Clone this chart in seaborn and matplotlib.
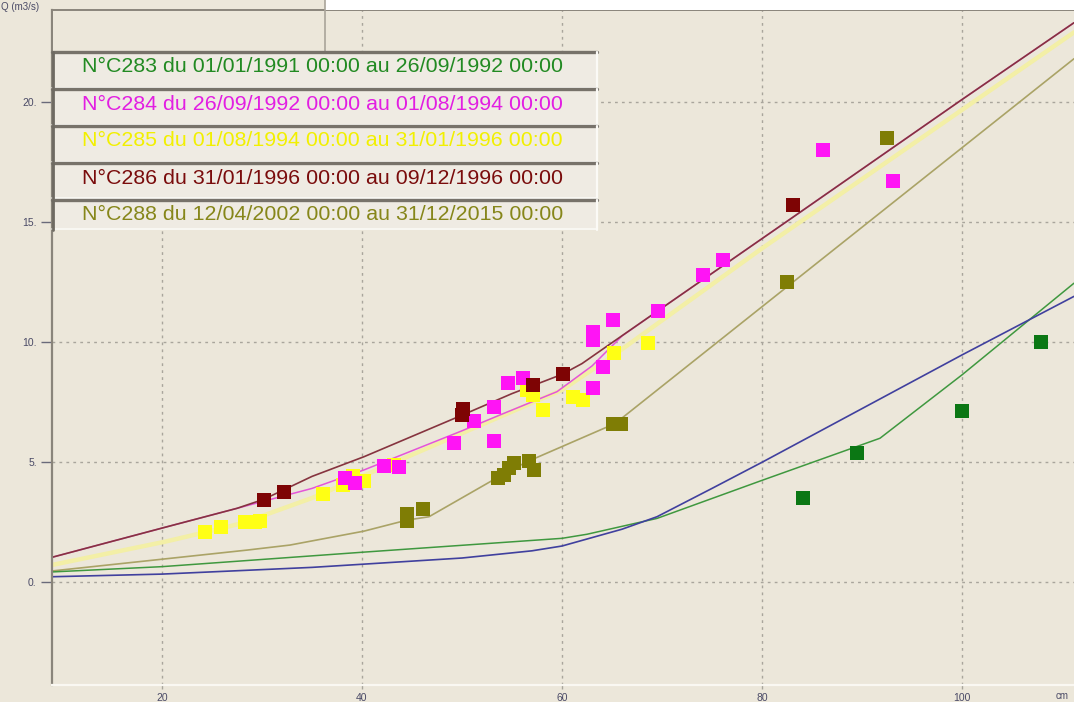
import matplotlib
matplotlib.use("Agg")
import matplotlib.pyplot as plt
from matplotlib import font_manager
from matplotlib.patches import Rectangle
from matplotlib.lines import Line2D
import pandas as pd
import seaborn as sns

# ---------------- Jaugeages : hauteur h (cm), débit Q (m3/s) ----------------
c283_h = [84.1, 89.5, 100.0, 107.9]
c283_q = [3.51, 5.36, 7.11, 10.0]

c284_h = [38.3, 39.3, 42.2, 43.7, 49.2, 51.2, 53.2, 53.2, 54.6, 56.1,
          63.1, 63.1, 63.1, 64.1, 65.1, 69.6, 74.1, 76.1, 86.1, 93.1]
c284_q = [4.35, 4.14, 4.83, 4.78, 5.80, 6.72, 7.30, 5.87, 8.28, 8.50,
          10.08, 10.40, 8.07, 8.95, 10.9, 11.3, 12.8, 13.4, 18.0, 16.7]

c285_h = [24.3, 25.9, 28.3, 29.3, 29.8, 36.1, 38.1, 39.1, 40.2, 43.2,
          56.5, 57.1, 58.1, 61.1, 62.1, 65.2, 68.6]
c285_q = [2.10, 2.28, 2.51, 2.51, 2.55, 3.67, 4.04, 4.42, 4.22, 4.87,
          8.00, 7.80, 7.17, 7.72, 7.58, 9.53, 9.97]

c286_h = [30.2, 32.2, 50.0, 50.1, 57.1, 60.1, 83.1]
c286_q = [3.42, 3.76, 6.95, 7.20, 8.20, 8.67, 15.7]

c288_h = [44.5, 44.5, 46.1, 53.6, 54.2, 54.7, 55.2, 56.7, 57.2, 65.1, 65.9, 82.5, 92.5]
c288_q = [2.55, 2.85, 3.05, 4.35, 4.45, 4.75, 4.95, 5.05, 4.65, 6.58, 6.58, 12.5, 18.5]

# ---------------- Courbes de tarage ----------------
tarage_283_h = [9.0, 20.0, 40.0, 60.0, 62.5, 69.5, 80.1, 91.8, 100.0, 111.2]
tarage_283_q = [0.42, 0.64, 1.24, 1.82, 1.99, 2.65, 4.25, 5.99, 8.63, 12.45]

tarage_284_h = [9.0, 20.3, 27.5, 35.0, 40.2, 50.0, 53.8, 59.5, 63.0, 66.0, 69.6, 83.1, 100.0, 111.2]
tarage_284_q = [1.03, 2.28, 3.07, 3.90, 4.67, 6.30, 6.96, 7.93, 9.00, 10.25, 11.3, 15.2, 20.1, 23.3]

tarage_285_h = [9.0, 20.3, 24.0, 28.0, 35.0, 40.0, 50.0, 55.0, 60.0, 65.0, 80.0, 100.0, 111.2]
tarage_285_q = [0.71, 1.68, 2.04, 2.45, 3.50, 4.40, 6.20, 7.10, 8.00, 9.40, 13.9, 19.67, 22.9]

tarage_286_h = [9.0, 20.3, 27.5, 30.2, 35.0, 40.2, 50.0, 55.0, 60.0, 62.0, 65.1, 69.6, 83.1, 100.0, 111.2]
tarage_286_q = [1.03, 2.28, 3.07, 3.45, 4.40, 5.22, 6.95, 7.85, 8.65, 9.10, 10.0, 11.3, 15.2, 20.1, 23.3]

tarage_288_h = [9.0, 20.0, 28.5, 32.8, 40.2, 44.5, 46.7, 55.0, 57.0, 63.8, 65.3, 111.2]
tarage_288_q = [0.46, 0.95, 1.33, 1.54, 2.12, 2.58, 2.72, 4.70, 5.10, 6.33, 6.60, 21.8]

tarage_actif_h = [9.0, 20.0, 35.0, 40.0, 50.0, 57.0, 60.0, 63.0, 66.0, 69.5, 75.0, 80.1, 100.0, 111.2]
tarage_actif_q = [0.22, 0.33, 0.61, 0.74, 1.00, 1.30, 1.50, 1.85, 2.20, 2.72, 3.90, 5.01, 9.46, 11.9]

y_ticks = [0, 5, 10, 15, 20]
y_tick_labels = ["0.", "5.", "10.", "15.", "20."]
x_ticks = [20, 40, 60, 80, 100]
x_tick_labels = ["20", "40", "60", "80", "100"]

legend_labels = [
    "N°C283 du 01/01/1991 00:00 au 26/09/1992 00:00",
    "N°C284 du 26/09/1992 00:00 au 01/08/1994 00:00",
    "N°C285 du 01/08/1994 00:00 au 31/01/1996 00:00",
    "N°C286 du 31/01/1996 00:00 au 09/12/1996 00:00",
    "N°C288 du 12/04/2002 00:00 au 31/12/2015 00:00",
]
legend_colors = ["#228a22", "#e21ee2", "#f2f000", "#7a0c0c", "#86861a"]

# ---------------- Style ----------------
BG = "#ece7da"
sns.set_theme(style="white", rc={"figure.facecolor": BG, "axes.facecolor": BG})
available = {f.name for f in font_manager.fontManager.ttflist}
small_font = "Liberation Sans Narrow" if "Liberation Sans Narrow" in available else "Liberation Sans"
plt.rcParams["font.family"] = ["Liberation Sans", "DejaVu Sans"]

W, H = 1074, 702
fig = plt.figure(figsize=(W / 100, H / 100), dpi=100)
fig.patch.set_facecolor(BG)

def fx(px):
    return px / W

def fy(py):
    return 1 - py / H

ax_left, ax_top, ax_right, ax_bottom = 52, 10, 1074, 685
ax = fig.add_axes([fx(ax_left), fy(ax_bottom), fx(ax_right - ax_left), (ax_bottom - ax_top) / H])
ax.set_facecolor(BG)

def frame(h, q):
    return pd.DataFrame({"h": h, "Q": q})

curves = [
    (tarage_285_h, tarage_285_q, "#f3efa6", 3.2),
    (tarage_288_h, tarage_288_q, "#aaa366", 1.2),
    (tarage_283_h, tarage_283_q, "#3f983f", 1.1),
    (tarage_actif_h, tarage_actif_q, "#40409e", 1.2),
    (tarage_284_h, tarage_284_q, "#e455d8", 1.1),
    (tarage_286_h, tarage_286_q, "#86343f", 1.2),
]
for h, q, col, lw in curves:
    sns.lineplot(data=frame(h, q), x="h", y="Q", ax=ax, color=col, lw=lw,
                 sort=False, estimator=None, zorder=2)

points = [
    (c285_h, c285_q, "#ffff14"),
    (c288_h, c288_q, "#7f7d05"),
    (c284_h, c284_q, "#ff14f5"),
    (c286_h, c286_q, "#7e0404"),
    (c283_h, c283_q, "#0b7714"),
]
for h, q, col in points:
    sns.scatterplot(data=frame(h, q), x="h", y="Q", ax=ax, color=col, marker="s",
                    s=92, linewidth=0, zorder=3)

ax.set_xlim(9.0, 111.2)
ax.set_ylim(-4.29, 23.83)
ax.set_xlabel("")
ax.set_ylabel("")
ax.set_xticks(x_ticks)
ax.set_xticklabels(x_tick_labels)
ax.set_yticks(y_ticks)
ax.set_yticklabels(y_tick_labels)
ax.grid(True, color="#a9a59c", linestyle=(0, (2, 3)), lw=1.0)
ax.set_axisbelow(True)

for lab in ax.get_xticklabels() + ax.get_yticklabels():
    lab.set_fontfamily(small_font)
    lab.set_fontsize(7.5)
    lab.set_color("#4a4a66")
ax.tick_params(axis="y", direction="out", length=8, width=1, color="#6a6a7a", pad=3, left=True)
ax.tick_params(axis="x", direction="out", length=3, width=1, color="#a9a59c", pad=3, bottom=True)

ax.spines["left"].set_color("#8a857b")
ax.spines["left"].set_linewidth(1.6)
ax.spines["top"].set_color("#8a857b")
ax.spines["top"].set_linewidth(1.4)
ax.spines["bottom"].set_color("#faf8f2")
ax.spines["bottom"].set_linewidth(1.6)
ax.spines["right"].set_visible(False)

# axis titles
fig.text(fx(1), fy(7), "Q (m3/s)", fontsize=7, family=small_font, color="#4a4a66",
         ha="left", va="center")
fig.text(fx(1062), fy(696), "cm", fontsize=7, family=small_font, color="#4a4a66",
         ha="center", va="center")

# white header strip and empty header box
fig.add_artist(Rectangle((fx(325), fy(ax_top)), fx(W - 325), ax_top / H,
                         transform=fig.transFigure, facecolor="white", edgecolor="none", zorder=1))
fig.add_artist(Rectangle((fx(53), fy(51)), fx(325 - 53), (51 - 11) / H,
                         transform=fig.transFigure, facecolor=BG, edgecolor="none", zorder=1))
fig.add_artist(Line2D([fx(325), fx(325)], [fy(0), fy(51)], transform=fig.transFigure,
                      color="#a9a49a", lw=1.2, zorder=2))

# legend rows
row_tops = [52, 89, 126, 163, 200]
row_heights = [37, 37, 37, 37, 30]
legend_right = 597
for top, hgt, text, col in zip(row_tops, row_heights, legend_labels, legend_colors):
    fig.add_artist(Rectangle((fx(53), fy(top + hgt)), fx(legend_right - 53), hgt / H,
                             transform=fig.transFigure, facecolor="#efebe3",
                             edgecolor="none", zorder=1))
    fig.add_artist(Line2D([fx(52), fx(legend_right)], [fy(top), fy(top)],
                          transform=fig.transFigure, color="#77726a", lw=2.4, zorder=2))
    fig.add_artist(Line2D([fx(52), fx(legend_right)], [fy(top + hgt - 1.5), fy(top + hgt - 1.5)],
                          transform=fig.transFigure, color="#fbfaf6", lw=1.2, zorder=2))
    fig.add_artist(Line2D([fx(legend_right), fx(legend_right)], [fy(top), fy(top + hgt)],
                          transform=fig.transFigure, color="#fbfaf6", lw=1.6, zorder=2))
    fig.add_artist(Line2D([fx(53), fx(53)], [fy(top), fy(top + hgt)],
                          transform=fig.transFigure, color="#6e6a62", lw=2.0, zorder=2))
    fig.text(fx(82), fy(top + 15), text, fontsize=15.4, color=col,
             ha="left", va="center", zorder=3)

fig.savefig("out.png", dpi=100, facecolor=BG)
